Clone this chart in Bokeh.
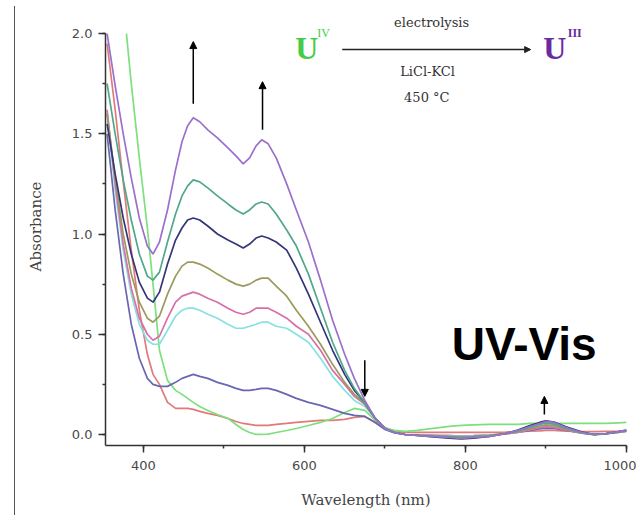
from bokeh.plotting import figure
from bokeh.models import (Label, Arrow, NormalHead, SingleIntervalTicker,
                          NumeralTickFormatter, Range1d)
from bokeh.embed import file_html
from bokeh.resources import INLINE

wavelength = [355, 365, 375, 385, 395, 405, 412, 420, 430, 440, 448, 455, 462, 470, 480,
              492, 505, 515, 524, 532, 540, 547, 555, 565, 578, 590, 605, 620, 635, 650,
              662, 675, 688, 700,
              712, 725, 740, 760, 780, 795, 810, 830, 850, 865, 880, 892, 900, 910, 925,
              945, 960, 975, 990, 1000]

wavelength_green = [379, 385, 395, 405, 412, 420, 430, 440, 448, 455, 462, 470, 480,
                    492, 505, 515, 524, 532, 540, 547, 555, 565, 578, 590, 605, 620, 635, 650,
                    662, 675, 688, 700,
                    712, 725, 740, 760, 780, 795, 810, 830, 850, 865, 880, 892, 900, 910, 925,
                    945, 960, 975, 990, 1000]

abs_red = [1.95, 1.62, 1.26, 0.92, 0.62, 0.40, 0.30, 0.25, 0.16, 0.13, 0.13, 0.13, 0.125, 0.115, 0.105,
           0.095, 0.08, 0.065, 0.055, 0.05, 0.045, 0.045, 0.045, 0.05, 0.055, 0.06, 0.065, 0.07, 0.07, 0.075,
           0.085, 0.09, 0.06, 0.03,
           0.015, 0.01, 0.01, 0.01, 0.01, 0.01, 0.01, 0.01, 0.012, 0.014, 0.016, 0.018, 0.02, 0.02, 0.016,
           0.014, 0.014, 0.015, 0.016, 0.018]
abs_green = [2.00, 1.75, 1.38, 1.03, 0.75, 0.42, 0.27, 0.22, 0.20, 0.18, 0.16, 0.14, 0.12,
             0.10, 0.08, 0.05, 0.025, 0.01, 0.0, 0.0, 0.002, 0.01, 0.02, 0.03, 0.045, 0.06, 0.08, 0.11,
             0.13, 0.12, 0.07, 0.035,
             0.02, 0.015, 0.02, 0.03, 0.04, 0.045, 0.048, 0.05, 0.05, 0.05, 0.055, 0.055, 0.055, 0.055, 0.055,
             0.055, 0.055, 0.055, 0.058, 0.06]
abs_slate = [1.50, 1.12, 0.80, 0.55, 0.38, 0.28, 0.25, 0.24, 0.24, 0.26, 0.28, 0.29, 0.30, 0.29, 0.28,
             0.26, 0.245, 0.23, 0.22, 0.22, 0.225, 0.23, 0.23, 0.22, 0.20, 0.18, 0.16, 0.145, 0.125, 0.105,
             0.095, 0.09, 0.06, 0.025,
             0.008, 0.0, -0.002, -0.004, -0.006, -0.008, -0.006, -0.003, 0.003, 0.01, 0.02, 0.028, 0.032, 0.03, 0.02,
             0.007, 0.0, 0.004, 0.01, 0.015]
abs_cyan = [1.60, 1.22, 0.92, 0.70, 0.55, 0.47, 0.45, 0.45, 0.52, 0.59, 0.62, 0.63, 0.63, 0.62, 0.60,
            0.58, 0.55, 0.53, 0.53, 0.54, 0.55, 0.56, 0.56, 0.54, 0.53, 0.50, 0.46, 0.38, 0.29, 0.22,
            0.17, 0.14, 0.08, 0.03,
            0.01, 0.0, -0.002, -0.004, -0.006, -0.008, -0.006, -0.003, 0.004, 0.012, 0.025, 0.036, 0.042, 0.038, 0.024,
            0.008, 0.0, 0.005, 0.012, 0.018]
abs_pink = [1.62, 1.25, 0.95, 0.73, 0.58, 0.50, 0.47, 0.49, 0.58, 0.66, 0.69, 0.70, 0.71, 0.70, 0.68,
            0.66, 0.63, 0.61, 0.60, 0.61, 0.63, 0.63, 0.63, 0.61, 0.58, 0.54, 0.50, 0.42, 0.32, 0.25,
            0.19, 0.15, 0.08, 0.03,
            0.01, 0.0, -0.002, -0.005, -0.008, -0.01, -0.008, -0.004, 0.004, 0.012, 0.024, 0.034, 0.038, 0.035, 0.022,
            0.007, 0.0, 0.005, 0.012, 0.018]
abs_olive = [1.60, 1.28, 1.00, 0.80, 0.66, 0.58, 0.56, 0.59, 0.70, 0.79, 0.84, 0.86, 0.86, 0.85, 0.83,
             0.80, 0.77, 0.75, 0.74, 0.75, 0.77, 0.78, 0.78, 0.74, 0.69, 0.62, 0.54, 0.45, 0.35, 0.26,
             0.20, 0.155, 0.08, 0.03,
             0.01, 0.0, -0.003, -0.008, -0.01, -0.012, -0.01, -0.005, 0.005, 0.015, 0.03, 0.042, 0.048, 0.044, 0.027,
             0.008, 0.0, 0.005, 0.012, 0.018]
abs_navy = [1.55, 1.30, 1.08, 0.90, 0.76, 0.68, 0.66, 0.71, 0.85, 0.97, 1.03, 1.07, 1.08, 1.07, 1.04,
            1.00, 0.97, 0.95, 0.93, 0.95, 0.98, 0.99, 0.98, 0.96, 0.92, 0.83, 0.70, 0.56, 0.42, 0.30,
            0.22, 0.16, 0.08, 0.03,
            0.01, 0.0, -0.005, -0.012, -0.018, -0.022, -0.018, -0.01, 0.005, 0.022, 0.045, 0.06, 0.068, 0.062, 0.038,
            0.012, 0.0, 0.004, 0.014, 0.022]
abs_teal = [1.75, 1.50, 1.27, 1.07, 0.90, 0.79, 0.77, 0.81, 0.96, 1.10, 1.19, 1.24, 1.27, 1.26, 1.23,
            1.19, 1.15, 1.12, 1.10, 1.12, 1.15, 1.16, 1.15, 1.10, 1.02, 0.94, 0.80, 0.63, 0.46, 0.32,
            0.23, 0.16, 0.08, 0.03,
            0.01, 0.0, -0.005, -0.01, -0.012, -0.015, -0.012, -0.008, 0.005, 0.018, 0.035, 0.05, 0.058, 0.052, 0.03,
            0.008, -0.002, 0.004, 0.013, 0.02]
abs_purple = [2.00, 1.74, 1.50, 1.28, 1.08, 0.94, 0.90, 0.96, 1.12, 1.32, 1.46, 1.54, 1.58, 1.56, 1.52,
              1.48, 1.43, 1.39, 1.35, 1.38, 1.44, 1.47, 1.45, 1.38, 1.25, 1.12, 0.96, 0.77, 0.57, 0.40,
              0.28, 0.17, 0.08, 0.03,
              0.01, 0.0, -0.005, -0.01, -0.015, -0.02, -0.015, -0.01, 0.005, 0.02, 0.04, 0.055, 0.065, 0.06, 0.035,
              0.01, 0.0, 0.005, 0.015, 0.02]

series = [
    (wavelength, abs_red, "#e07a7a"),
    (wavelength_green, abs_green, "#7de07d"),
    (wavelength, abs_slate, "#6a66b0"),
    (wavelength, abs_cyan, "#86e2e2"),
    (wavelength, abs_pink, "#d870a8"),
    (wavelength, abs_olive, "#9c9a5c"),
    (wavelength, abs_navy, "#35357a"),
    (wavelength, abs_teal, "#4fa88c"),
    (wavelength, abs_purple, "#9a70cc"),
]

p = figure(width=622, height=509, output_backend="svg", toolbar_location=None,
           x_range=Range1d(353, 1000), y_range=Range1d(-0.055, 2.13),
           min_border_left=90, min_border_right=11, min_border_top=1, min_border_bottom=70)
p.styles = {"margin-left": "14px", "margin-top": "6px",
            "border-left": "1.5px solid #555"}
p.outline_line_color = None
p.xgrid.visible = False
p.ygrid.visible = False
p.background_fill_color = "white"
p.border_fill_color = "white"

for xs, ys, col in series:
    p.line(xs, ys, line_color=col, line_width=1.7)

p.xaxis.ticker = SingleIntervalTicker(interval=200, num_minor_ticks=2)
p.yaxis.ticker = SingleIntervalTicker(interval=0.5, num_minor_ticks=2)
p.yaxis.formatter = NumeralTickFormatter(format="0.0")
p.yaxis.bounds = (-0.055, 2.0)
for ax in (p.xaxis[0], p.yaxis[0]):
    ax.axis_line_color = "#333333"
    ax.axis_line_width = 1.5
    ax.major_tick_line_color = "#333333"
    ax.minor_tick_line_color = "#333333"
    ax.major_tick_line_width = 1.5
    ax.minor_tick_line_width = 1.5
    ax.major_tick_out = 7
    ax.major_tick_in = 0
    ax.minor_tick_out = 3
    ax.minor_tick_in = 0
    ax.major_label_text_font = "DejaVu Sans"
    ax.major_label_text_font_size = "13px"
    ax.major_label_text_color = "#4a4a4a"
    ax.axis_label_text_font = "DejaVu Serif"
    ax.axis_label_text_font_style = "normal"
    ax.axis_label_text_font_size = "15px"
    ax.axis_label_text_color = "#444444"
p.xaxis.axis_label = "Wavelength (nm)"
p.yaxis.axis_label = "Absorbance"
p.xaxis.major_label_standoff = 8
p.yaxis.major_label_standoff = 6
p.xaxis.axis_label_standoff = 18
p.yaxis.axis_label_standoff = 24


def add_arrow(x, y0, y1):
    p.add_layout(Arrow(end=NormalHead(size=7, fill_color="black", line_color="black"),
                       x_start=x, y_start=y0, x_end=x, y_end=y1,
                       line_color="black", line_width=1.5))


add_arrow(462, 1.65, 1.96)
add_arrow(548, 1.52, 1.76)
add_arrow(675, 0.37, 0.19)
add_arrow(898, 0.10, 0.19)

# reaction scheme
p.add_layout(Arrow(end=NormalHead(size=6, fill_color="#222222", line_color="#222222"),
                   x_start=647, y_start=1.92, x_end=881, y_end=1.92,
                   line_color="#222222", line_width=1.5))
p.add_layout(Label(x=603, y=1.93, text="U", text_align="center", text_baseline="alphabetic",
                   text_font="Liberation Serif", text_font_style="bold", text_font_size="32px",
                   text_color="#44cc44"))
p.add_layout(Label(x=616, y=2.005, text="IV", text_align="left", text_baseline="alphabetic",
                   text_font="Liberation Serif", text_font_size="12px", text_color="#44cc44"))
p.add_layout(Label(x=911, y=1.93, text="U", text_align="center", text_baseline="alphabetic",
                   text_font="Liberation Serif", text_font_style="bold", text_font_size="32px",
                   text_color="#6a2aa0"))
p.add_layout(Label(x=927, y=2.005, text="III", text_align="left", text_baseline="alphabetic",
                   text_font="Liberation Serif", text_font_style="bold", text_font_size="12px",
                   text_color="#6a2aa0"))
p.add_layout(Label(x=758, y=2.055, text="electrolysis", text_align="center",
                   text_baseline="alphabetic", text_font="DejaVu Serif",
                   text_font_size="13px", text_color="#333333"))
p.add_layout(Label(x=753, y=1.81, text="LiCl-KCl", text_align="center",
                   text_baseline="middle", text_font="DejaVu Serif",
                   text_font_size="13px", text_color="#333333"))
p.add_layout(Label(x=752, y=1.68, text="450 °C", text_align="center",
                   text_baseline="middle", text_font="DejaVu Serif",
                   text_font_size="13px", text_color="#333333"))

p.add_layout(Label(x=873, y=0.449, text="UV-Vis", text_align="center", text_baseline="middle",
                   text_font="Liberation Sans", text_font_style="bold", text_font_size="46px",
                   text_color="black"))

open("out.html", "w").write(file_html(p, INLINE))
